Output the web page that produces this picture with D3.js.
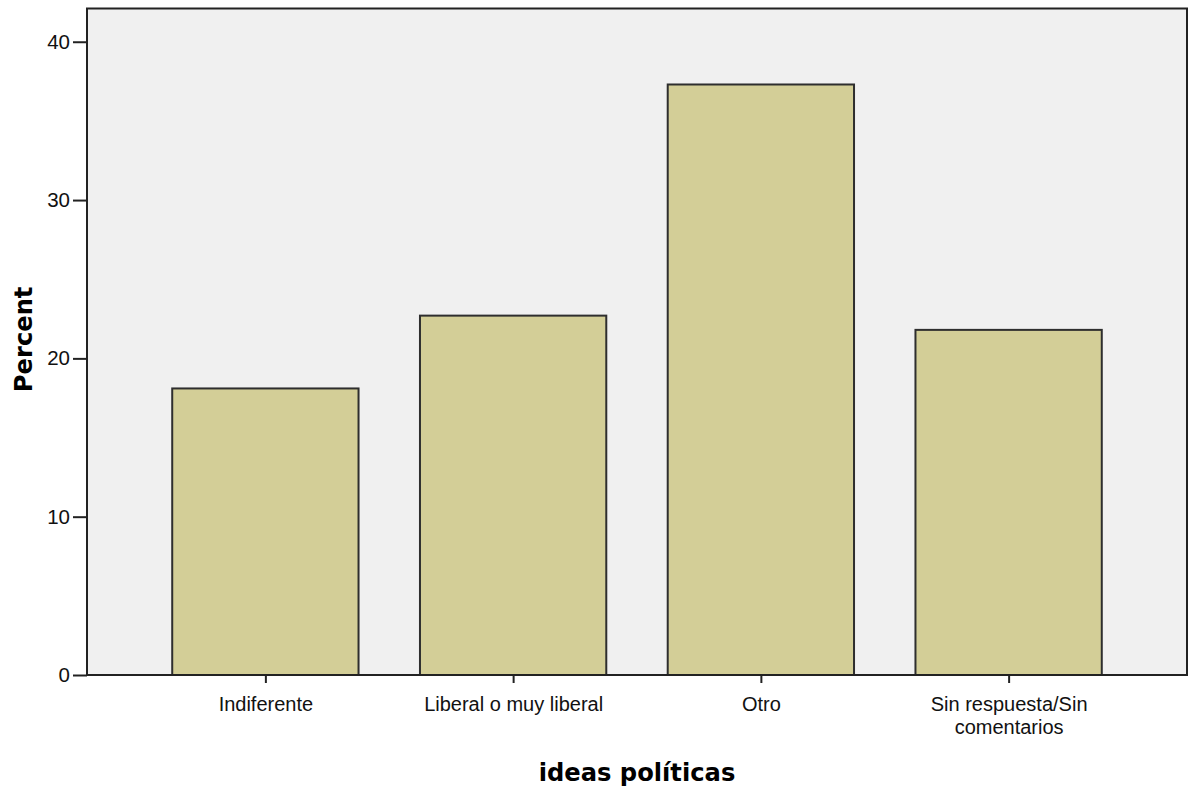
<!DOCTYPE html>
<html>
<head>
<meta charset="utf-8">
<script src="https://cdn.jsdelivr.net/npm/d3@7"></script>
<style>
  html, body { margin: 0; padding: 0; background: #ffffff; }
  svg { display: block; }
</style>
</head>
<body>
<svg id="chart" width="1197" height="791"></svg>
<script>
const categories = ["Indiferente", "Liberal o muy liberal", "Otro", "Sin respuesta/Sin comentarios"];
const categoryLines = [["Indiferente"], ["Liberal o muy liberal"], ["Otro"], ["Sin respuesta/Sin", "comentarios"]];
const percentValues = [18.1, 22.7, 37.3, 21.8];
const yTicks = [0, 10, 20, 30, 40];
const xTitle = "ideas políticas";
const yTitle = "Percent";

(function () {
const svg = d3.select("#chart");
const pLeft = 87, pRight = 1187, pTop = 8.5, pBottom = 675;

const x = d3.scalePoint().domain(categories).range([pLeft, pRight]).padding(0.72);
const barW = x.step() * 0.752;
const y = d3.scaleLinear().domain([0, 42.1]).range([pBottom, pTop]);

// panel
svg.append("rect")
  .attr("x", pLeft).attr("y", pTop)
  .attr("width", pRight - pLeft).attr("height", pBottom - pTop)
  .attr("fill", "#f0f0f0");

// bars
svg.append("g").selectAll("rect")
  .data(categories)
  .join("rect")
  .attr("x", d => x(d) - barW / 2)
  .attr("y", (d, i) => y(percentValues[i]))
  .attr("width", barW)
  .attr("height", (d, i) => pBottom - y(percentValues[i]))
  .attr("fill", "#d3ce97")
  .attr("stroke", "#2e2e2e")
  .attr("stroke-width", 2);

// frame
svg.append("rect")
  .attr("x", pLeft).attr("y", pTop)
  .attr("width", pRight - pLeft).attr("height", pBottom - pTop)
  .attr("fill", "none")
  .attr("stroke", "#222")
  .attr("stroke-width", 2);

// y axis
const yAxis = d3.axisLeft(y).tickValues(yTicks).tickSize(14).tickPadding(3).tickFormat(d3.format("d"));
const gy = svg.append("g").attr("transform", `translate(${pLeft},0)`).call(yAxis);
gy.select(".domain").remove();
gy.selectAll(".tick line").attr("stroke", "#222").attr("stroke-width", 2);
gy.selectAll(".tick text")
  .attr("font-family", "Liberation Sans, Arial, sans-serif")
  .attr("font-size", 20.5)
  .attr("fill", "#111");

// x axis
const xAxis = d3.axisBottom(x).tickSize(8).tickFormat("");
const gx = svg.append("g").attr("transform", `translate(0,${pBottom})`).call(xAxis);
gx.select(".domain").remove();
gx.selectAll(".tick line").attr("stroke", "#222").attr("stroke-width", 2);
gx.selectAll(".tick").each(function(d, i) {
  const t = d3.select(this).append("text")
    .attr("fill", "#111")
    .attr("font-family", "Liberation Sans, Arial, sans-serif")
    .attr("font-size", 20)
    .attr("text-anchor", "middle");
  categoryLines[i].forEach((line, j) => {
    t.append("tspan").attr("x", 0).attr("y", 35.5 + j * 23).text(line);
  });
});

// titles
svg.append("text")
  .attr("x", (pLeft + pRight) / 2).attr("y", 781)
  .attr("text-anchor", "middle")
  .attr("font-family", "DejaVu Sans, Verdana, sans-serif")
  .attr("font-weight", "bold")
  .attr("font-size", 24.2)
  .attr("fill", "#000")
  .text(xTitle);

svg.append("text")
  .attr("transform", `translate(32,${y(21.2)}) rotate(-90)`)
  .attr("text-anchor", "middle")
  .attr("font-family", "DejaVu Sans, Verdana, sans-serif")
  .attr("font-weight", "bold")
  .attr("font-size", 24.2)
  .attr("fill", "#000")
  .text(yTitle);
})();
</script>
</body>
</html>
